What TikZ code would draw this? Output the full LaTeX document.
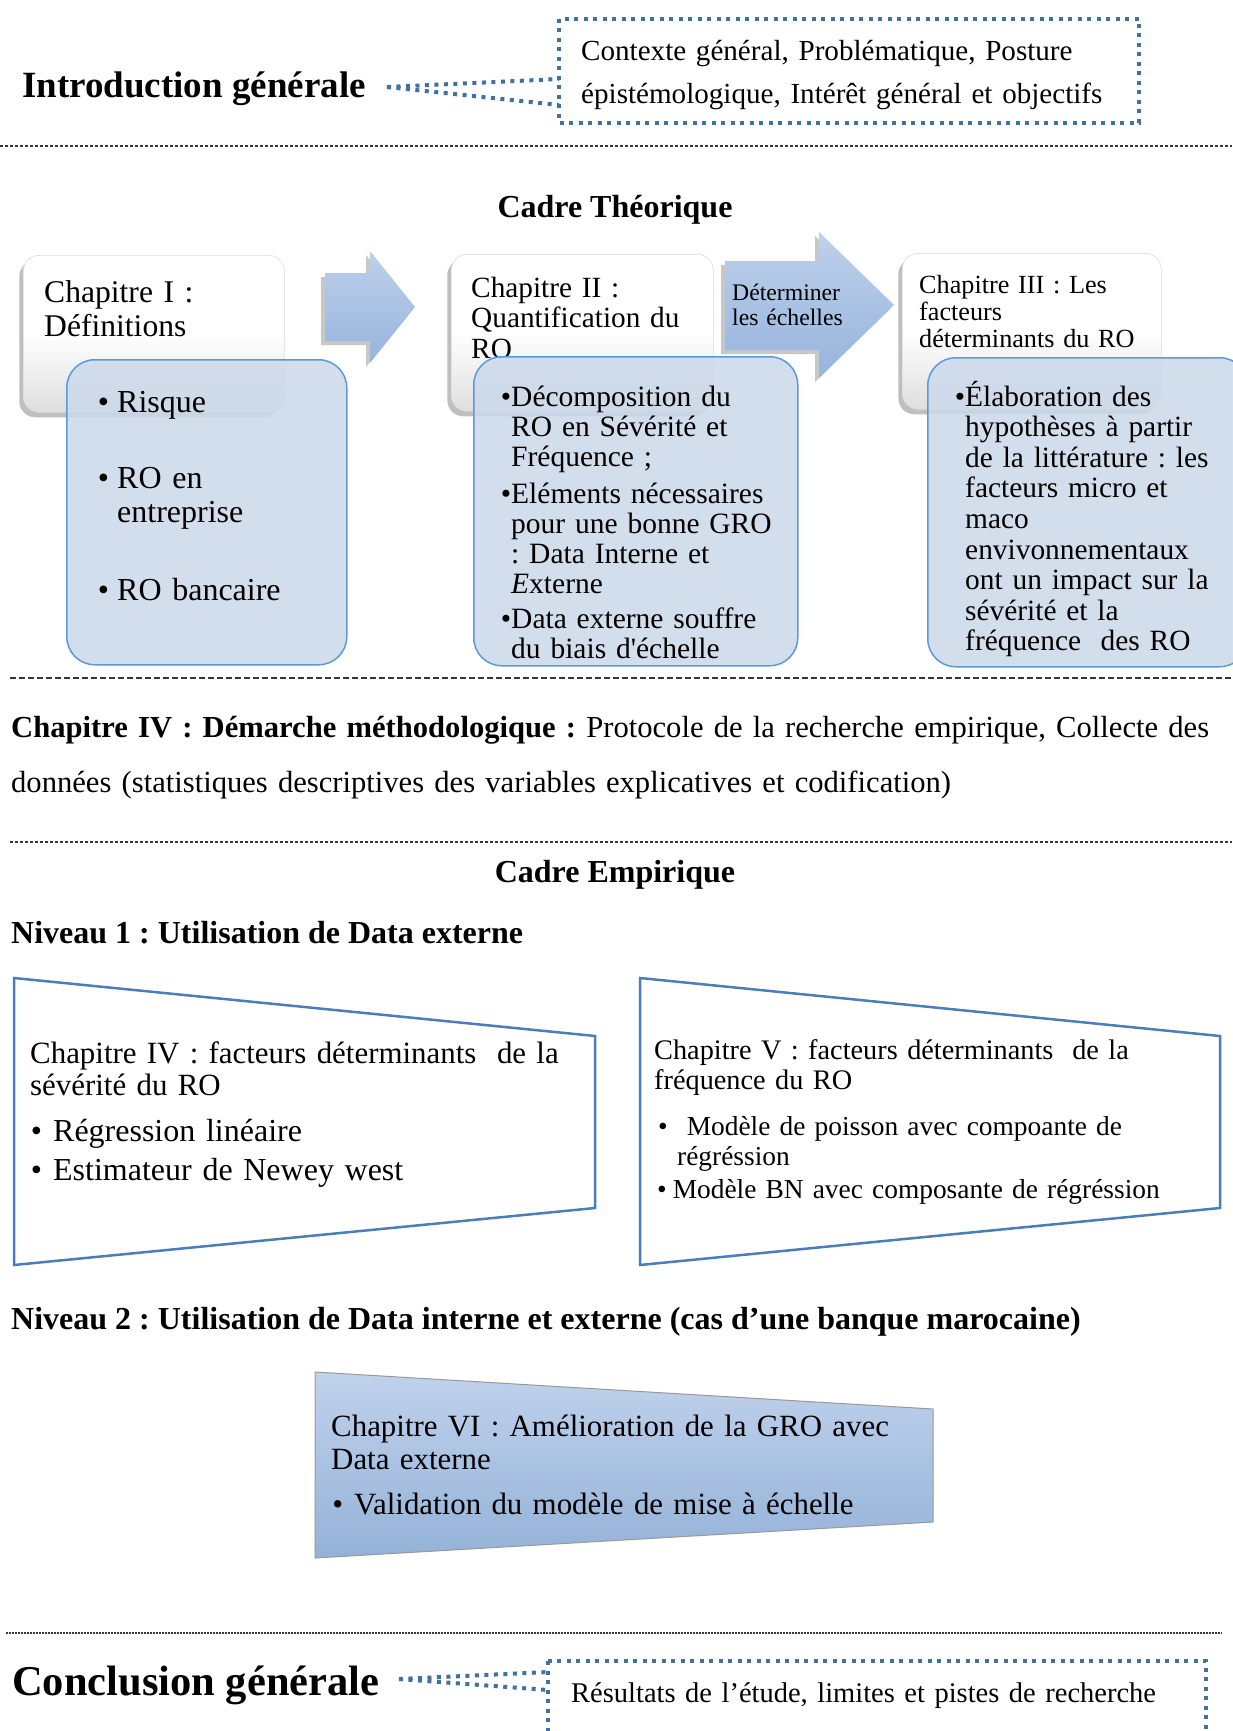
\documentclass[tikz,border=0pt]{standalone}
\usepackage{fontspec}
\setmainfont{Liberation Serif}
\usetikzlibrary{shadows,calc}

\definecolor{dotblue}{RGB}{65,113,156}
\definecolor{boxblue}{RGB}{204,217,235}
\definecolor{boxedge}{RGB}{91,155,213}
\definecolor{trapedge}{RGB}{74,126,187}
\definecolor{arrowtop}{RGB}{190,208,235}
\definecolor{arrowbot}{RGB}{150,180,220}
\definecolor{traptop}{RGB}{192,210,236}
\definecolor{trapbot}{RGB}{148,178,216}
\definecolor{sepgray}{RGB}{55,55,55}

% font size with line spacing, and a slightly narrower word space
\newcommand\fsz[2]{\fontsize{#1}{#2}\selectfont}
\newcommand\tfs[2]{\fontsize{#1}{#2}\selectfont\spaceskip=0.2em plus 0.1em minus 0.05em\relax}
\newcommand\itembul[1]{\leavevmode\llap{\textbullet\hspace{#1}}}
\frenchspacing

\begin{document}
\begin{tikzpicture}[x=1pt,y=-1pt,
  txt/.style={inner sep=0pt, anchor=base west, align=left, text width=#1},
  txt/.default=640pt,
  title/.style={inner sep=0pt, anchor=base west, font=\bfseries\fsz{32}{38}},
  dotbox/.style={draw=dotblue, line width=4pt, dash pattern=on 4pt off 5.5pt},
  sepline/.style={draw=sepgray, line width=1.1pt, dash pattern=on 3pt off 2pt},
  septhick/.style={draw=sepgray, line width=2.4pt, dash pattern=on 6pt off 3pt},
  wbox/.style={draw=black!14, line width=0.6pt, rounded corners=16pt,
    top color=white, bottom color=black!13, middle color=white,
    anchor=north west, inner sep=0pt,
    drop shadow={shadow xshift=-4pt, shadow yshift=-5pt, opacity=0.45, fill=black!55}},
  bbox/.style={draw=boxedge, line width=1.5pt, rounded corners=28pt,
    fill=boxblue, fill opacity=0.85, anchor=north west, inner sep=0pt},
  barrow/.style={top color=arrowtop, bottom color=arrowbot, draw=none,
    drop shadow={shadow xshift=-4pt, shadow yshift=-4pt, opacity=0.4, fill=black!55}},
  trap/.style={draw=trapedge, line width=2.5pt, line join=miter},
  trapfill/.style={draw=black!40, line width=1pt, top color=traptop, bottom color=trapbot}
]
\useasboundingbox (0,0) rectangle (1232,1731);
\fill[white] (0,0) rectangle (1232,1731);

% ---------- Introduction ----------
\node[inner sep=0pt, anchor=base west, font=\bfseries\fsz{37}{44}] (intro) at (22,98) {Introduction générale};
\coordinate (introtip) at (387,87);
\coordinate (ibtl) at (559,19);
\coordinate (ibbr) at (1139,123);
\coordinate (ibup) at (559,79);
\coordinate (iblo) at (559,105);
\draw[dotbox] (ibtl) rectangle (ibbr);
\draw[dotbox] (introtip) -- (ibup);
\draw[dotbox] (introtip) -- (iblo);
\node[txt, font=\tfs{29.1}{43}] (introtext) at (581,61)
  {Contexte général, Problématique, Posture\\épistémologique, Intérêt général et objectifs};

\coordinate (s1a) at (0,146);
\coordinate (s1b) at (1232,146);
\draw[sepline] (s1a) -- (s1b);

% ---------- Cadre théorique ----------
\node[inner sep=0pt, anchor=base, font=\bfseries\fsz{32}{38}] (cadret) at (615,217) {Cadre Théorique};

\node[wbox, minimum width=261pt, minimum height=157pt] (ch1) at (23,255) {};
\node[wbox, minimum width=262pt, minimum height=157pt] (ch2) at (451,254) {};
\node[wbox, minimum width=259pt, minimum height=156pt] (ch3) at (902,253) {};

\node[txt, font=\tfs{31.6}{34}] (ch1head) at (44,302) {Chapitre I :\\Définitions};
\node[txt, font=\tfs{29.3}{30.5}] (ch2head) at (471,297) {Chapitre II :\\Quantification du\\RO};
\node[txt, font=\tfs{26.2}{27}] (ch3head) at (919,293) {Chapitre III : Les\\facteurs\\déterminants du RO};

% block arrows between the chapters
\path[barrow] (325,273) -- (370,273) -- (370,251) -- (415,307) -- (370,363) -- (370,341) -- (325,341) -- cycle;
\path[barrow] (725,261) -- (819,261) -- (819,232) -- (894,305) -- (819,378) -- (819,350) -- (725,350) -- cycle;
\node[txt, font=\tfs{23.7}{25}] (echelles) at (732,300) {Déterminer\\les échelles};

% detail boxes
\node[bbox, minimum width=280pt, minimum height=305pt] (det1) at (66,359) {};
\node[bbox, minimum width=324pt, minimum height=309pt] (det2) at (473,356) {};
\node[bbox, minimum width=320pt, minimum height=309pt] (det3) at (927,357) {};

\node[txt, font=\tfs{32}{34}] (det1txt) at (117,412)
  {\itembul{8pt}Risque\\[42pt]\itembul{8pt}RO en\\entreprise\\[44pt]\itembul{8pt}RO bancaire};
\node[txt, font=\tfs{29.5}{30}] (det2txt) at (511,406)
  {\itembul{0pt}Décomposition du\\RO en Sévérité et\\Fréquence ;\\[7pt]%
   \itembul{0pt}Eléments nécessaires\\pour une bonne GRO\\: Data Interne et\\\textit{E}xterne\\[5pt]%
   \itembul{0pt}Data externe souffre\\du biais d\textquotesingle échelle};
\node[txt, font=\tfs{29.4}{30.6}] (det3txt) at (965,406)
  {\itembul{0pt}Élaboration des\\hypothèses à partir\\de la littérature : les\\facteurs micro et\\maco\\envivonnementaux\\ont un impact sur la\\sévérité et la\\fréquence\ \ des RO};

\coordinate (s2a) at (10,678);
\coordinate (s2b) at (1232,678);
\draw[septhick] (s2a) -- (s2b);

% ---------- Méthodologie ----------
\node[txt=1221pt, font=\tfs{30.6}{55}] (ch4) at (11,737)
  {\textbf{Chapitre IV : Démarche méthodologique :} Protocole de la recherche empirique, Collecte des\\données (statistiques descriptives des variables explicatives et codification)};

\coordinate (s3a) at (10,842);
\coordinate (s3b) at (1232,842);
\draw[sepline] (s3a) -- (s3b);

% ---------- Cadre empirique ----------
\node[inner sep=0pt, anchor=base, font=\bfseries\fsz{32}{38}] (cadree) at (615,882) {Cadre Empirique};
\node[title] (niv1) at (11,943) {Niveau 1 : Utilisation de Data externe};

\draw[trap] (14,978) -- (595,1036) -- (595,1208) -- (14,1265) -- cycle;
\draw[trap] (640,978) -- (1220,1036) -- (1220,1208) -- (640,1265) -- cycle;

\node[txt, font=\tfs{30.9}{32}] (sevhead) at (30,1063)
  {Chapitre IV : facteurs déterminants\ \ de la\\sévérité du RO};
\node[txt, font=\tfs{32}{39}] (sevlist) at (53,1141)
  {\itembul{11pt}Régression linéaire\\\itembul{11pt}Estimateur de Newey west};

\node[txt, font=\tfs{28.3}{30.5}] (freqhead) at (654,1059)
  {Chapitre V : facteurs déterminants\ \ de la\\fréquence du RO};
\node[txt, font=\tfs{27.4}{30}] (freqone) at (658,1135)
  {\textbullet\hspace{19pt}Modèle de poisson avec compoante de\\\hspace*{19pt}régréssion};
\node[txt, font=\tfs{27.4}{30}] (freqtwo) at (657,1198)
  {\textbullet\hspace{6pt}Modèle BN avec composante de régréssion};

\node[title] (niv2) at (11,1329) {Niveau 2 : Utilisation de Data interne et externe (cas d’une banque marocaine)};

\path[trapfill] (315,1372) -- (933,1409) -- (933,1522) -- (315,1558) -- cycle;
\node[txt, font=\tfs{30.9}{33}] (ch6head) at (331,1436)
  {Chapitre VI : Amélioration de la GRO avec\\Data externe};
\node[txt, font=\tfs{30.9}{33}] (ch6list) at (354,1514)
  {\itembul{11pt}Validation du modèle de mise à échelle};

\coordinate (s4a) at (6,1633);
\coordinate (s4b) at (1222,1633);
\draw[sepline, line width=1.3pt, dash pattern=on 2pt off 1pt] (s4a) -- (s4b);

% ---------- Conclusion ----------
\node[inner sep=0pt, anchor=base west, font=\bfseries\fsz{42.5}{50}] (concl) at (12,1695) {Conclusion générale};
\coordinate (concltip) at (399,1679);
\coordinate (cbtl) at (548,1661);
\coordinate (cbbr) at (1206,1760);
\coordinate (cbup) at (548,1672);
\coordinate (cblo) at (548,1690);
\draw[dotbox] (cbtl) rectangle (cbbr);
\draw[dotbox] (concltip) -- (cbup);
\draw[dotbox] (concltip) -- (cblo);
\node[txt, font=\tfs{28.5}{35}] (concltext) at (571,1702)
  {Résultats de l’étude, limites et pistes de recherche};
\end{tikzpicture}
\end{document}
